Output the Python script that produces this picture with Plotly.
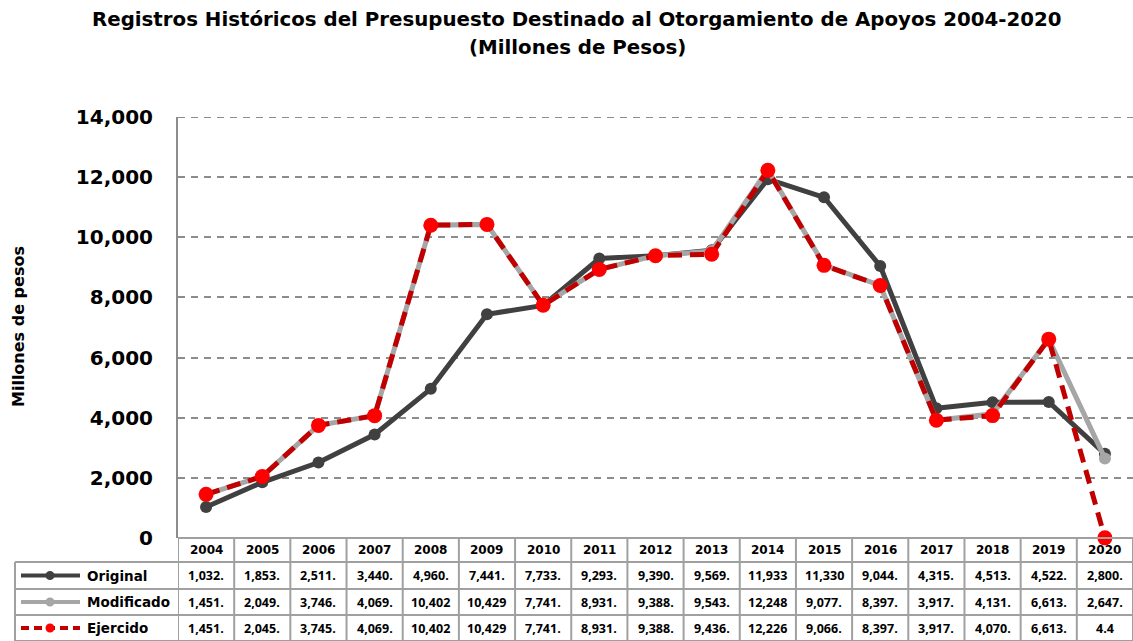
import plotly.graph_objects as go

# ---------------- data ----------------
years = ["2004", "2005", "2006", "2007", "2008", "2009", "2010", "2011", "2012",
         "2013", "2014", "2015", "2016", "2017", "2018", "2019", "2020"]
original = [1032, 1853, 2511, 3440, 4960, 7441, 7733, 9293, 9390,
            9569, 11933, 11330, 9044, 4315, 4513, 4522, 2800]
modificado = [1451, 2049, 3746, 4069, 10402, 10429, 7741, 8931, 9388,
              9543, 12248, 9077, 8397, 3917, 4131, 6613, 2647]
ejercido = [1451, 2045, 3745, 4069, 10402, 10429, 7741, 8931, 9388,
            9436, 12226, 9066, 8397, 3917, 4070, 6613, 4.4]
series_names = ["Original", "Modificado", "Ejercido"]
y_ticks = [0, 2000, 4000, 6000, 8000, 10000, 12000, 14000]

title_lines = ["Registros Históricos del Presupuesto Destinado al Otorgamiento de Apoyos 2004-2020",
               "(Millones de Pesos)"]
y_title = "Millones de pesos"

# ---------------- styles ----------------
W, H = 1133, 641
L, R, T, B = 178, 0, 117, 103
PW, PH = W - L - R, H - T - B
FONT = "Open Sans"
WIDE = "DejaVu Sans"
GRID = "#8C8C8C"

styles = {
    "Original": dict(color="#404040", mcolor="#404040", msize=12, dash="solid"),
    "Modificado": dict(color="#A6A6A6", mcolor="#A6A6A6", msize=12, dash="solid"),
    "Ejercido": dict(color="#C00000", mcolor="#FF0000", msize=15, dash="14px,8px"),
}
values = {"Original": original, "Modificado": modificado, "Ejercido": ejercido}


def pyp(p):  # pixel y -> paper y
    return (H - B - p) / PH


def pxp(p):  # pixel x -> paper x
    return (p - L) / PW


def fmt(v):
    s = f"{v:,.1f}"
    return s[:6]


x_idx = list(range(len(years)))

fig = go.Figure()
for name in series_names:
    st = styles[name]
    fig.add_trace(go.Scatter(
        x=x_idx, y=values[name], mode="lines+markers", name=name,
        line=dict(color=st["color"], width=5, dash=st["dash"]),
        marker=dict(color=st["mcolor"], size=st["msize"]),
        cliponaxis=False, showlegend=False,
    ))

shapes = []
annotations = []
TC = "#A0A0A0"
row_y = [538, 562, 589, 615, 641]
n = len(years)

# top grid line (at the upper edge of the axis range)
shapes.append(dict(type="line", xref="paper", yref="y", x0=0, x1=1,
                   y0=y_ticks[-1], y1=y_ticks[-1], layer="below",
                   line=dict(color=GRID, width=2, dash="7px,6px")))

# horizontal table lines
shapes.append(dict(type="line", xref="x", yref="paper", x0=-0.5, x1=n - 0.5,
                   y0=pyp(row_y[0]), y1=pyp(row_y[0]), line=dict(color=TC, width=2)))
for yy in row_y[1:]:
    shapes.append(dict(type="line", xref="paper", yref="paper", x0=pxp(15), x1=1,
                       y0=pyp(yy), y1=pyp(yy), line=dict(color=TC, width=2)))
# vertical table lines
for i in range(n + 1):
    shapes.append(dict(type="line", xref="x", yref="paper", x0=i - 0.5, x1=i - 0.5,
                       y0=pyp(row_y[0]), y1=pyp(row_y[-1]), line=dict(color=TC, width=2)))
shapes.append(dict(type="line", xref="paper", yref="paper", x0=pxp(15), x1=pxp(15),
                   y0=pyp(row_y[1]), y1=pyp(row_y[-1]), line=dict(color=TC, width=2)))

# header years
for i, yr in enumerate(years):
    annotations.append(dict(x=i, y=pyp((row_y[0] + row_y[1]) / 2), xref="x", yref="paper",
                            xanchor="center", yanchor="middle",
                            text=f"<b>{yr}</b>", showarrow=False,
                            font=dict(family=WIDE, size=12, color="#000000")))

# rows
for r, name in enumerate(series_names):
    st = styles[name]
    yc = pyp((row_y[r + 1] + row_y[r + 2]) / 2)
    shapes.append(dict(type="line", xref="paper", yref="paper", x0=pxp(21), x1=pxp(80),
                       y0=yc, y1=yc, line=dict(color=st["color"], width=4,
                                               dash="8px,5px" if st["dash"] != "solid" else "solid")))
    rr = 4.5 / PW
    ry = 4.5 / PH
    shapes.append(dict(type="circle", xref="paper", yref="paper",
                       x0=pxp(50) - rr, x1=pxp(50) + rr, y0=yc - ry, y1=yc + ry,
                       fillcolor=st["mcolor"], line=dict(width=0)))
    annotations.append(dict(x=pxp(85), y=yc, xref="paper", yref="paper",
                            xanchor="left", yanchor="middle",
                            text=f"<b>{name}</b>", showarrow=False,
                            font=dict(family=WIDE, size=13.5, color="#000000")))
    for i, v in enumerate(values[name]):
        annotations.append(dict(x=i, y=yc, xref="x", yref="paper",
                                xanchor="center", yanchor="middle",
                                text=f"<b>{fmt(v)}</b>", showarrow=False,
                                font=dict(family=FONT, size=12.5, color="#000000")))

# title
for k, ypx in enumerate([20, 48]):
    annotations.append(dict(x=pxp(577), y=pyp(ypx), xref="paper", yref="paper",
                            xanchor="center", yanchor="middle",
                            text=f"<b>{title_lines[k]}</b>", showarrow=False,
                            font=dict(family=WIDE, size=19.8, color="#000000")))
# y axis title
annotations.append(dict(x=pxp(18), y=pyp(327), xref="paper", yref="paper",
                        xanchor="center", yanchor="middle",
                        text=f"<b>{y_title}</b>", textangle=-90, showarrow=False,
                        font=dict(family=WIDE, size=16, color="#000000")))

fig.update_layout(
    width=W, height=H,
    margin=dict(l=L, r=R, t=T, b=B, pad=0),
    paper_bgcolor="white", plot_bgcolor="white",
    shapes=shapes, annotations=annotations,
    xaxis=dict(range=[-0.5, n - 0.5], showticklabels=False, showgrid=False,
               zeroline=False, showline=False, fixedrange=True),
    yaxis=dict(range=[0, 14000], tickvals=y_ticks, tickformat=",d",
               tickfont=dict(family=WIDE, size=20, color="#000000", weight="bold"),
               showgrid=True, gridcolor=GRID, gridwidth=1.5, griddash="7px,6px",
               zeroline=False, showline=True, linecolor=GRID, linewidth=2,
               ticks="", ticklabelstandoff=19),
)

fig.write_html("out.html", config={"displayModeBar": False},
               post_script="document.body.style.margin='0px';")
